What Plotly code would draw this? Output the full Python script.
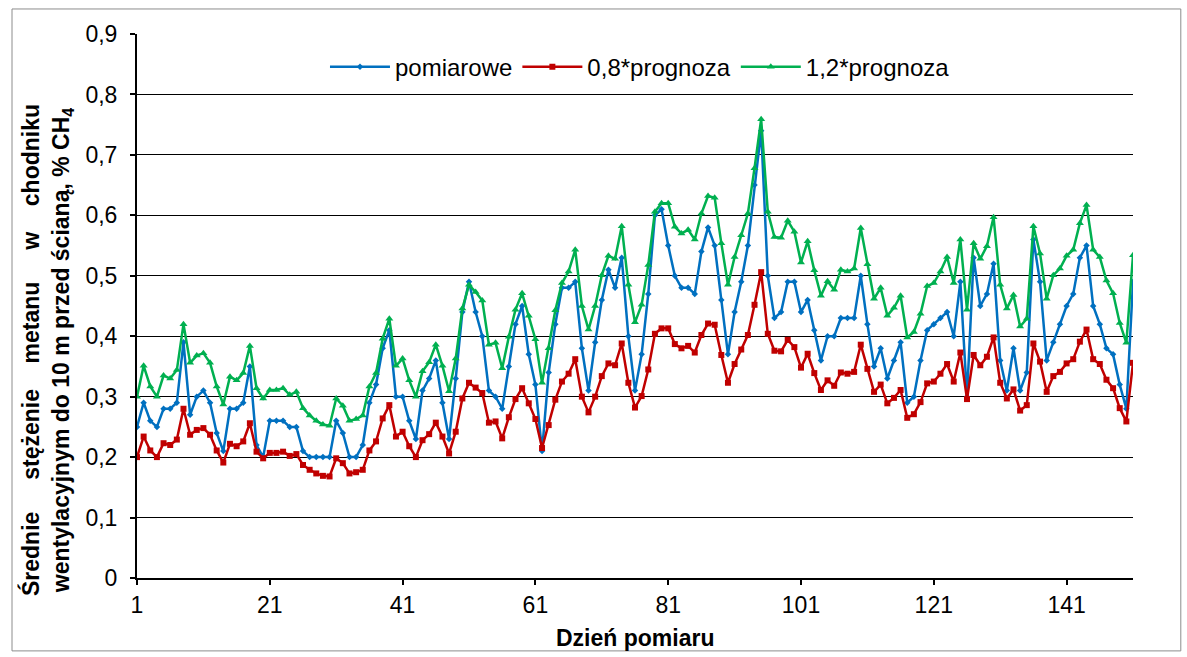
import plotly.graph_objects as go

days = list(range(1, 152))

pomiarowe = [
    0.25, 0.29, 0.26, 0.25, 0.28, 0.28, 0.29, 0.39, 0.27, 0.30,
    0.31, 0.29, 0.24, 0.21, 0.28, 0.28, 0.29, 0.35, 0.22, 0.20,
    0.26, 0.26, 0.26, 0.25, 0.25, 0.21, 0.20, 0.20, 0.20, 0.20,
    0.26, 0.24, 0.20, 0.20, 0.22, 0.29, 0.32, 0.38, 0.41, 0.30,
    0.30, 0.26, 0.23, 0.31, 0.33, 0.36, 0.29, 0.23, 0.33, 0.44,
    0.49, 0.44, 0.40, 0.31, 0.30, 0.28, 0.35, 0.42, 0.45, 0.37,
    0.32, 0.21, 0.34, 0.42, 0.48, 0.48, 0.49, 0.38, 0.31, 0.39,
    0.46, 0.51, 0.48, 0.53, 0.40, 0.31, 0.37, 0.47, 0.60, 0.61,
    0.55, 0.50, 0.48, 0.48, 0.47, 0.54, 0.58, 0.55, 0.46, 0.37,
    0.44, 0.49, 0.55, 0.65, 0.74, 0.50, 0.43, 0.44, 0.49, 0.49,
    0.44, 0.46, 0.41, 0.36, 0.40, 0.40, 0.43, 0.43, 0.43, 0.50,
    0.42, 0.35, 0.38, 0.33, 0.36, 0.39, 0.29, 0.30, 0.36, 0.41,
    0.42, 0.43, 0.44, 0.40, 0.49, 0.30, 0.53, 0.45, 0.47, 0.52,
    0.36, 0.31, 0.38, 0.31, 0.34, 0.56, 0.49, 0.36, 0.39, 0.42,
    0.45, 0.47, 0.53, 0.55, 0.45, 0.42, 0.38, 0.37, 0.32, 0.28,
    0.49,
]

prognoza_08 = [
    0.200, 0.234, 0.211, 0.200, 0.223, 0.220, 0.229, 0.280, 0.237, 0.245,
    0.248, 0.237, 0.211, 0.191, 0.222, 0.218, 0.226, 0.256, 0.209, 0.198,
    0.207, 0.207, 0.209, 0.202, 0.205, 0.187, 0.179, 0.173, 0.169, 0.168,
    0.198, 0.190, 0.173, 0.175, 0.179, 0.211, 0.226, 0.264, 0.286, 0.234,
    0.242, 0.218, 0.200, 0.228, 0.238, 0.257, 0.234, 0.206, 0.242, 0.297,
    0.323, 0.315, 0.306, 0.257, 0.259, 0.231, 0.266, 0.296, 0.314, 0.289,
    0.263, 0.215, 0.253, 0.295, 0.325, 0.338, 0.362, 0.300, 0.274, 0.300,
    0.334, 0.355, 0.352, 0.388, 0.323, 0.282, 0.301, 0.345, 0.404, 0.413,
    0.413, 0.387, 0.380, 0.384, 0.373, 0.402, 0.421, 0.419, 0.369, 0.323,
    0.354, 0.378, 0.402, 0.452, 0.506, 0.404, 0.376, 0.375, 0.394, 0.382,
    0.348, 0.371, 0.339, 0.311, 0.327, 0.318, 0.340, 0.338, 0.341, 0.386,
    0.346, 0.308, 0.320, 0.289, 0.298, 0.311, 0.265, 0.271, 0.291, 0.322,
    0.325, 0.338, 0.354, 0.325, 0.373, 0.296, 0.369, 0.352, 0.366, 0.398,
    0.323, 0.297, 0.312, 0.277, 0.286, 0.388, 0.358, 0.308, 0.334, 0.341,
    0.355, 0.362, 0.391, 0.411, 0.362, 0.354, 0.328, 0.314, 0.281, 0.259,
    0.356,
]

prognoza_12 = [
    0.300, 0.351, 0.317, 0.300, 0.335, 0.330, 0.344, 0.420, 0.356, 0.368,
    0.372, 0.356, 0.317, 0.287, 0.333, 0.327, 0.339, 0.384, 0.314, 0.297,
    0.311, 0.311, 0.314, 0.303, 0.308, 0.281, 0.269, 0.260, 0.254, 0.252,
    0.297, 0.285, 0.260, 0.263, 0.269, 0.317, 0.339, 0.396, 0.429, 0.351,
    0.363, 0.327, 0.300, 0.342, 0.357, 0.386, 0.351, 0.309, 0.363, 0.446,
    0.485, 0.473, 0.459, 0.386, 0.389, 0.347, 0.399, 0.444, 0.471, 0.434,
    0.395, 0.323, 0.380, 0.443, 0.488, 0.507, 0.543, 0.450, 0.411, 0.450,
    0.501, 0.533, 0.528, 0.582, 0.485, 0.423, 0.452, 0.518, 0.606, 0.620,
    0.620, 0.581, 0.570, 0.576, 0.560, 0.603, 0.632, 0.629, 0.554, 0.485,
    0.531, 0.567, 0.603, 0.678, 0.759, 0.606, 0.564, 0.563, 0.591, 0.573,
    0.522, 0.557, 0.509, 0.467, 0.491, 0.477, 0.510, 0.507, 0.512, 0.579,
    0.519, 0.462, 0.480, 0.434, 0.447, 0.467, 0.398, 0.407, 0.437, 0.483,
    0.488, 0.507, 0.531, 0.488, 0.560, 0.444, 0.554, 0.528, 0.549, 0.597,
    0.485, 0.446, 0.468, 0.416, 0.429, 0.582, 0.537, 0.462, 0.501, 0.512,
    0.533, 0.543, 0.587, 0.617, 0.543, 0.531, 0.492, 0.471, 0.422, 0.389,
    0.534,
]

x_tickvals = [1, 21, 41, 61, 81, 101, 121, 141]
y_tickvals = [0, 0.1, 0.2, 0.3, 0.4, 0.5, 0.6, 0.7, 0.8, 0.9]
y_ticktext = ["0", "0,1", "0,2", "0,3", "0,4", "0,5", "0,6", "0,7", "0,8", "0,9"]

FONT = "Liberation Sans, Arial, sans-serif"

fig = go.Figure()
fig.add_trace(go.Scatter(
    x=days, y=pomiarowe, name="pomiarowe", mode="lines+markers",
    line=dict(color="#0070C0", width=2.5),
    marker=dict(symbol="diamond", size=5, color="#0070C0"),
))
fig.add_trace(go.Scatter(
    x=days, y=prognoza_08, name="0,8*prognoza", mode="lines+markers",
    line=dict(color="#C00000", width=2.5),
    marker=dict(symbol="square", size=6, color="#C00000"),
))
fig.add_trace(go.Scatter(
    x=days, y=prognoza_12, name="1,2*prognoza", mode="lines+markers",
    line=dict(color="#00B050", width=2.5),
    marker=dict(symbol="triangle-up", size=7, color="#00B050"),
))

nb = "\u00a0"
line1 = ("Średnie" + nb * 5 + "stężenie" + nb * 4 + "metanu" + nb * 5 + "w" + nb * 4 + "chodniku")
line2 = "wentylacyjnym do 10 m przed ścianą, % CH<sub>4</sub>"

fig.update_layout(
    width=1187, height=657,
    margin=dict(l=137, r=54, t=34, b=79),
    paper_bgcolor="white", plot_bgcolor="white",
    font=dict(family=FONT, size=24, color="black"),
    showlegend=True,
    legend=dict(
        orientation="h", x=0.505, xanchor="center", y=0.939, yanchor="middle",
        bgcolor="white", font=dict(size=24), itemwidth=60,
        traceorder="normal",
    ),
    xaxis=dict(
        range=[1, 151], tickvals=x_tickvals, showgrid=False, zeroline=False,
        showline=True, linecolor="black", linewidth=2,
        ticks="outside", ticklen=5, tickwidth=1.5, tickcolor="black",
        tickfont=dict(size=23), automargin=False,
    ),
    yaxis=dict(
        range=[0, 0.9], tickvals=y_tickvals, ticktext=y_ticktext,
        showgrid=True, gridcolor="black", gridwidth=1, zeroline=False,
        showline=True, linecolor="black", linewidth=2,
        ticks="outside", ticklen=5, tickwidth=1.5, tickcolor="black",
        tickfont=dict(size=23), ticklabelstandoff=8, automargin=False,
    ),
    annotations=[
        dict(
            text="<b>" + line1 + "<br>" + line2 + "</b>",
            xref="paper", yref="paper", x=-0.0904, y=0.419,
            xanchor="center", yanchor="middle", textangle=-90,
            showarrow=False, font=dict(size=23, family=FONT),
        ),
        dict(
            text="<b>Dzień pomiaru</b>",
            xref="paper", yref="paper", x=0.5, y=-0.110,
            xanchor="center", yanchor="middle",
            showarrow=False, font=dict(size=23, family=FONT),
        ),
    ],
    shapes=[
        dict(type="rect", xref="paper", yref="paper",
             x0=-0.1255, x1=1.048, y0=-0.134, y1=1.046,
             line=dict(color="#8c8c8c", width=1), fillcolor="rgba(0,0,0,0)",
             layer="below"),
    ],
)

fig.write_html("out.html")
